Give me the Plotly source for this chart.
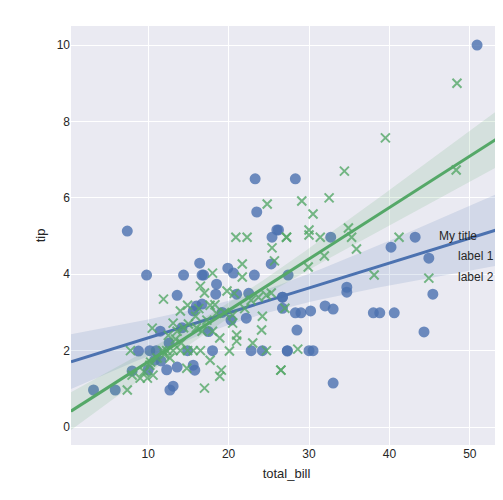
import numpy as np
import plotly.graph_objects as go

# smoker = Yes (blue circles)
yes_bill = [50.9, 7.4, 9.8, 23.3, 28.3, 23.5, 26.2, 26.0, 25.4, 32.7, 43.2, 40.2, 44.9, 45.4,
            27.4, 26.7, 34.7, 34.7, 28.3, 29.0, 30.2, 32.0, 33.0, 38.0, 38.8, 40.6, 44.3, 28.5,
            27.3, 30.0, 30.5, 33.0, 14.4, 16.4, 16.7, 16.9, 19.9, 20.6, 23.2, 25.3, 18.5, 18.4,
            13.6, 16.0, 16.7, 15.6, 21.0, 22.2, 26.7, 26.7, 11.5, 12.6, 8.8, 10.2, 11.0, 14.9,
            18.0, 22.8, 24.2, 27.3, 11.6, 12.3, 13.6, 15.6, 15.8, 8.0, 3.2, 5.9, 13.1, 12.7,
            10.0, 10.8, 14.2, 17.5, 19.2, 20.3, 22.5]
yes_tip = [10.0, 5.13, 3.98, 6.5, 6.5, 5.63, 5.16, 5.16, 4.97, 4.97, 4.97, 4.71, 4.42, 3.48,
           3.98, 3.40, 3.66, 3.53, 2.99, 2.99, 3.04, 3.17, 3.09, 2.99, 2.99, 2.99, 2.49, 2.54,
           1.99, 2.0, 2.0, 1.15, 3.98, 4.29, 3.98, 3.98, 4.16, 4.03, 3.98, 4.27, 3.74, 3.48,
           3.45, 3.17, 3.22, 3.04, 3.48, 2.85, 3.40, 3.11, 2.51, 2.20, 1.99, 2.0, 2.0, 2.0,
           2.0, 2.0, 2.0, 2.0, 1.73, 1.5, 1.57, 1.62, 1.49, 1.47, 0.97, 0.97, 1.07, 0.97,
           1.5, 1.75, 2.6, 2.5, 3.0, 2.8, 3.5]

# smoker = No (green crosses)
no_bill = [48.4, 39.5, 34.4, 48.3, 29.1, 32.5, 30.5, 30.0, 30.0, 27.2, 31.4, 34.9, 35.3, 35.9,
           31.9, 29.9, 41.2, 44.9, 38.1, 27.0, 28.6, 26.5, 24.8, 20.9, 22.3, 25.4, 27.2, 25.7,
           21.7, 18.0, 21.7, 16.5, 17.0, 19.8, 11.9, 14.9, 14.0, 17.7, 18.5, 20.5, 20.5, 22.8,
           24.2, 24.1, 25.3, 24.7, 10.5, 13.1, 13.6, 16.7, 18.0, 21.0, 21.0, 18.9, 23.0, 7.8,
           12.3, 13.1, 14.0, 14.9, 15.6, 16.5, 10.2, 9.9, 11.1, 12.7, 8.0, 7.4, 9.0, 17.0,
           19.1, 18.9, 17.7, 20.1, 24.7, 26.5, 10.6, 14.8, 9.5, 10.3, 11.8, 12.0, 13.4, 14.4,
           15.0, 15.9, 16.3, 17.3, 18.3, 19.5, 20.7, 22.0, 23.7, 12.5, 14.1, 16.0]
no_tip = [9.0, 7.57, 6.70, 6.73, 5.92, 6.0, 5.58, 5.16, 5.03, 4.97, 4.97, 5.21, 4.97, 4.66,
          4.48, 4.19, 4.97, 3.90, 3.98, 3.11, 2.04, 1.49, 5.84, 4.97, 4.97, 4.69, 4.97, 4.35,
          4.27, 4.03, 3.93, 3.69, 3.51, 3.56, 3.35, 3.19, 3.04, 3.19, 2.98, 2.93, 2.72, 3.32,
          2.90, 2.54, 3.51, 3.45, 2.59, 2.72, 2.51, 2.51, 2.51, 2.41, 2.25, 2.33, 2.20, 2.0,
          2.0, 2.0, 2.0, 2.0, 2.0, 2.0, 1.62, 1.28, 1.81, 1.81, 1.36, 0.97, 1.28, 1.02,
          1.49, 1.33, 1.75, 1.99, 2.0, 1.49, 1.36, 1.54, 1.45, 1.7, 2.0, 1.9, 2.3, 2.6,
          2.7, 2.9, 3.1, 2.8, 3.2, 3.0, 3.5, 3.1, 3.4, 2.4, 2.2, 2.6]

legend_title = "My title"
legend_labels = ["label 1", "label 2"]

blue = "#4C72B0"
green = "#55A868"
x_lo, x_hi = 0.4, 54.0


def fit_band(xs, ys):
    xs, ys = np.array(xs), np.array(ys)
    n = len(xs)
    b, a = np.polyfit(xs, ys, 1)
    resid = ys - (a + b * xs)
    s = np.sqrt((resid ** 2).sum() / (n - 2))
    grid = np.linspace(x_lo, x_hi, 100)
    se = s * np.sqrt(1 / n + (grid - xs.mean()) ** 2 / ((xs - xs.mean()) ** 2).sum())
    yhat = a + b * grid
    return grid, yhat, yhat - 1.99 * se, yhat + 1.99 * se


fig = go.Figure()

for xs, ys, col, rgba, sym in [(yes_bill, yes_tip, blue, "rgba(76,114,176,0.15)", "circle"),
                               (no_bill, no_tip, green, "rgba(85,168,104,0.15)", "x-thin")]:
    fig.add_trace(go.Scatter(x=xs, y=ys, mode="markers",
                             marker=dict(symbol=sym, size=9, color=col, opacity=0.8,
                                         line=dict(width=2, color=col))))
    g, yh, lo, hi = fit_band(xs, ys)
    fig.add_trace(go.Scatter(x=np.concatenate([g, g[::-1]]), y=np.concatenate([hi, lo[::-1]]),
                             fill="toself", fillcolor=rgba, line=dict(width=0), mode="lines",
                             hoverinfo="skip"))
    fig.add_trace(go.Scatter(x=g, y=yh, mode="lines", line=dict(color=col, width=3)))

fig.add_annotation(x=0.85, y=0.499, xref="paper", yref="paper", text=legend_title,
                   showarrow=False, xanchor="left", font=dict(size=12, color="#262626"))
for i, lab in enumerate(legend_labels):
    fig.add_annotation(x=0.893, y=0.451 - i * 0.05, xref="paper", yref="paper", text=lab,
                       showarrow=False, xanchor="left", font=dict(size=12, color="#262626"))

axis_style = dict(showgrid=True, gridcolor="white", gridwidth=1, zeroline=False,
                  showline=False, ticks="", automargin=False,
                  tickfont=dict(size=12, color="#262626"))
fig.update_layout(
    width=503, height=500,
    plot_bgcolor="#EAEAF2", paper_bgcolor="white",
    font=dict(family="Liberation Sans, Arial", color="#262626"),
    margin=dict(l=63, r=9, t=18, b=63, autoexpand=False),
    showlegend=False,
    xaxis=dict(range=[x_lo, x_hi], tickvals=[10, 20, 30, 40, 50],
               title=dict(text="total_bill", font=dict(size=13), standoff=8), **axis_style),
    yaxis=dict(range=[-0.47, 10.5], tickvals=[0, 2, 4, 6, 8, 10],
               title=dict(text="tip", font=dict(size=13), standoff=8), **axis_style),
)

fig.write_html("out.html")
